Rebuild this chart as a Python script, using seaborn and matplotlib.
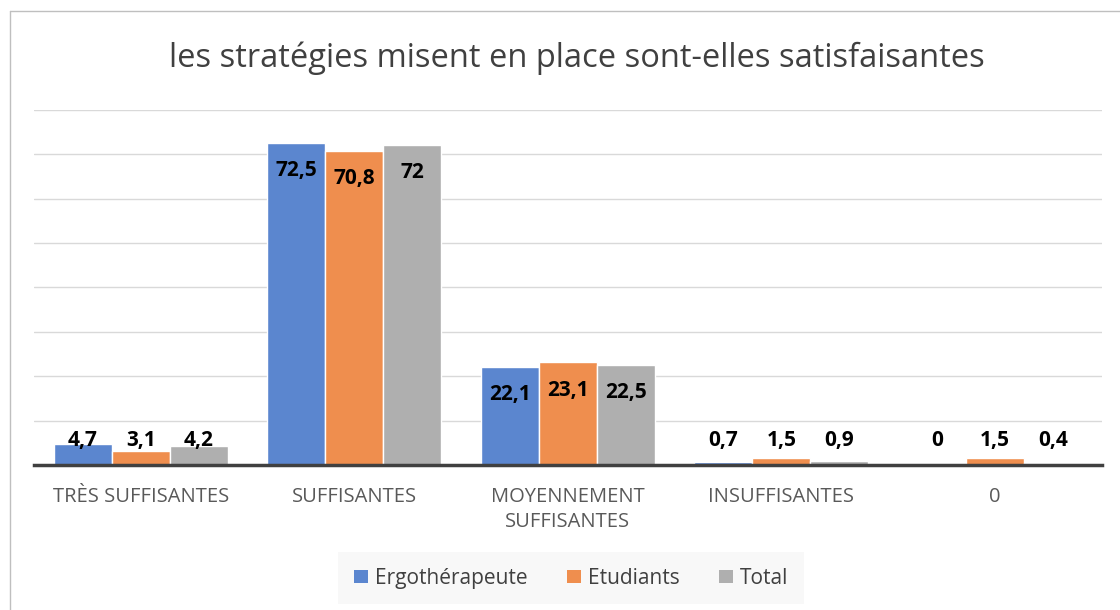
import pandas as pd
import matplotlib.pyplot as plt
import seaborn as sns
from matplotlib.lines import Line2D
from matplotlib.patches import Patch

categories = ["TRÈS SUFFISANTES", "SUFFISANTES", "MOYENNEMENT\nSUFFISANTES", "INSUFFISANTES", "0"]
series = ["Ergothérapeute", "Etudiants", "Total"]
ergo = [4.7, 72.5, 22.1, 0.7, 0]
etudiants = [3.1, 70.8, 23.1, 1.5, 1.5]
total = [4.2, 72, 22.5, 0.9, 0.4]
colors = ["#5B86CF", "#EF8E4E", "#AFAFAF"]

rows = []
for name, vals in zip(series, [ergo, etudiants, total]):
    for cat, v in zip(categories, vals):
        rows.append({"Catégorie": cat, "Série": name, "Valeur": v})
df = pd.DataFrame(rows)

sns.set_style("white")
plt.rcParams["font.family"] = ["Open Sans", "DejaVu Sans"]

fig = plt.figure(figsize=(11.2, 6.1), dpi=100)
ax = fig.add_axes([0.0306, 0.2377, 0.953, 0.582])

sns.barplot(data=df, x="Catégorie", y="Valeur", hue="Série", palette=colors, saturation=1,
            width=0.815, gap=0, edgecolor="white", linewidth=1, ax=ax, legend=False)

ax.set_ylim(0, 80)
ax.set_yticks(range(0, 81, 10))
ax.set_yticklabels([])
ax.tick_params(axis="y", length=0)
ax.tick_params(axis="x", length=0, pad=16, labelsize=14.5, labelcolor="#595959")
for lab in ax.get_xticklabels():
    lab.set_linespacing(1.35)
ax.grid(axis="y", color="#D9D9D9", linewidth=1)
ax.set_axisbelow(True)
for s in ["top", "right", "left"]:
    ax.spines[s].set_visible(False)
ax.spines["bottom"].set_color("#404040")
ax.spines["bottom"].set_linewidth(2.5)
ax.set_xlabel("")
ax.set_ylabel("")

# data labels: inside the bar top, clamped to sit just above the axis
for cont, vals in zip(ax.containers, [ergo, etudiants, total]):
    for bar, v in zip(cont, vals):
        xc = bar.get_x() + bar.get_width() / 2
        y = max(v - 6.2, 5.6)
        txt = f"{v:g}".replace(".", ",")
        ax.text(xc, y, txt, ha="center", va="center", fontsize=15,
                fontweight="bold", color="black")

fig.text(0.515, 0.905, "les stratégies misent en place sont-elles satisfaisantes",
         ha="center", va="center", fontsize=23.5, color="#404040")

handles = [Patch(facecolor=c, edgecolor="none") for c in colors]
leg = fig.legend(handles, series, loc="center", bbox_to_anchor=(0.51, 0.052), ncol=3,
                 frameon=True, fontsize=15, handlelength=0.65, handleheight=0.65,
                 handletextpad=0.35, columnspacing=1.9, borderpad=0.75)
leg.get_frame().set_facecolor("#F7F7F7")
leg.get_frame().set_edgecolor("none")
leg.get_frame().set_boxstyle("square", pad=0)
for t in leg.get_texts():
    t.set_color("#404040")

# outer chart frame
fig.add_artist(Line2D([10 / 1120, 10 / 1120], [0, 1 - 11 / 610], transform=fig.transFigure,
                      color="#BFBFBF", linewidth=1))
fig.add_artist(Line2D([10 / 1120, 1], [1 - 11 / 610, 1 - 11 / 610], transform=fig.transFigure,
                      color="#BFBFBF", linewidth=1))

fig.savefig("out.png", dpi=100)
